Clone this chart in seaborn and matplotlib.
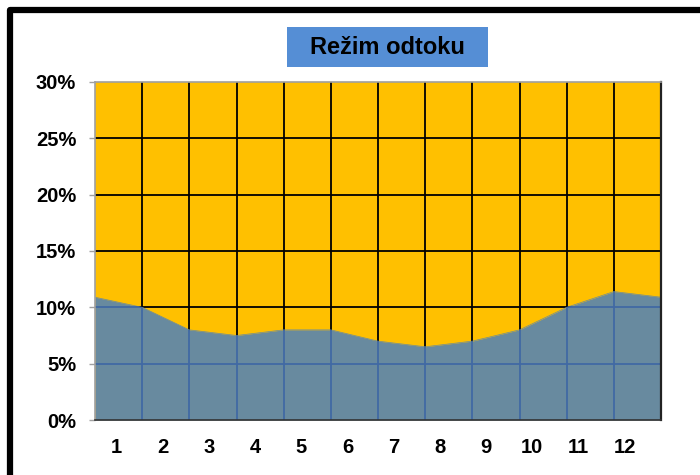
import numpy as np
import matplotlib
matplotlib.use('Agg')
import matplotlib.pyplot as plt
import matplotlib.patches as patches
from matplotlib.ticker import PercentFormatter
import seaborn as sns; sns.set_theme(style='white')

plt.rcParams['font.family'] = ['Liberation Sans', 'DejaVu Sans']

# data: share of yearly runoff, read at the category borders (13 points)
points = list(range(13))
runoff = [0.109, 0.100, 0.080, 0.075, 0.080, 0.080, 0.070, 0.065, 0.070, 0.080, 0.100, 0.114, 0.109]
months = ['1', '2', '3', '4', '5', '6', '7', '8', '9', '10', '11', '12']
title = 'Režim odtoku'

orange = '#FFC000'
area_col = '#688A9F'
grid_blue = '#4169A4'

fig = plt.figure(figsize=(7, 4.75), dpi=100)
ax = fig.add_axes([95 / 700, 1 - 420 / 475, 566 / 700, 338 / 475])
ax.set_facecolor(orange)

# black grid on the orange background
for x in points[1:-1]:
    ax.axvline(x, color='black', lw=1.3, zorder=1)
for y in [0.05, 0.10, 0.15, 0.20, 0.25]:
    ax.axhline(y, color='black', lw=1.3, zorder=1)

sns.lineplot(x=points, y=runoff, ax=ax, color=area_col, lw=0.5, zorder=3)
fill = ax.fill_between(points, runoff, 0, color=area_col, lw=0, zorder=2)

# blue grid lines seen through the area
clip = fill.get_paths()[0]
for x in points[1:-1]:
    ln = ax.axvline(x, color=grid_blue, lw=1.3, zorder=4)
    ln.set_clip_path(clip, ax.transData)
for y in [0.05, 0.10]:
    ln = ax.axhline(y, color=grid_blue, lw=1.3, zorder=4)
    ln.set_clip_path(clip, ax.transData)

ax.set_xlim(0, 12)
ax.set_ylim(0, 0.30)
ax.set_yticks(np.arange(0, 0.31, 0.05))
ax.yaxis.set_major_formatter(PercentFormatter(1.0, decimals=0))
ax.set_xticks(np.linspace(0.46, 11.23, 12))
ax.set_xticklabels(months)
ax.tick_params(axis='x', length=0, pad=13, labelsize=14.5)
ax.tick_params(axis='y', left=True, length=4.5, width=1, color='#A0A0A0', pad=9, labelsize=14.5)
for lab in ax.get_xticklabels() + ax.get_yticklabels():
    lab.set_fontweight('bold')
    lab.set_color('black')
ax.set_xlabel('')
ax.set_ylabel('')

for side in ['left', 'top']:
    ax.spines[side].set_color('#A0A0A0')
    ax.spines[side].set_linewidth(1.2)
ax.spines['right'].set_color('#222222')
ax.spines['right'].set_linewidth(1.6)
ax.spines['bottom'].set_color('#333333')
ax.spines['bottom'].set_linewidth(1.2)
for s in ax.spines.values():
    s.set_zorder(5)

# title box
fig.patches.append(patches.Rectangle((287 / 700, 1 - 67 / 475), 201 / 700, 40 / 475,
                                     transform=fig.transFigure, facecolor='#558ED5',
                                     edgecolor='none', zorder=1))
fig.text(387 / 700, 1 - 47.5 / 475, title, ha='center', va='center', fontsize=17,
         fontweight='bold', color='black', zorder=2)

# thick frame around the chart, cut off at right and bottom
fig.patches.append(patches.Rectangle((10 / 700, -0.1), 1.2, 1 - 10 / 475 + 0.1,
                                     transform=fig.transFigure, facecolor='none',
                                     edgecolor='black', lw=4.5, joinstyle='round', zorder=0))

fig.savefig('out.png', dpi=100)
